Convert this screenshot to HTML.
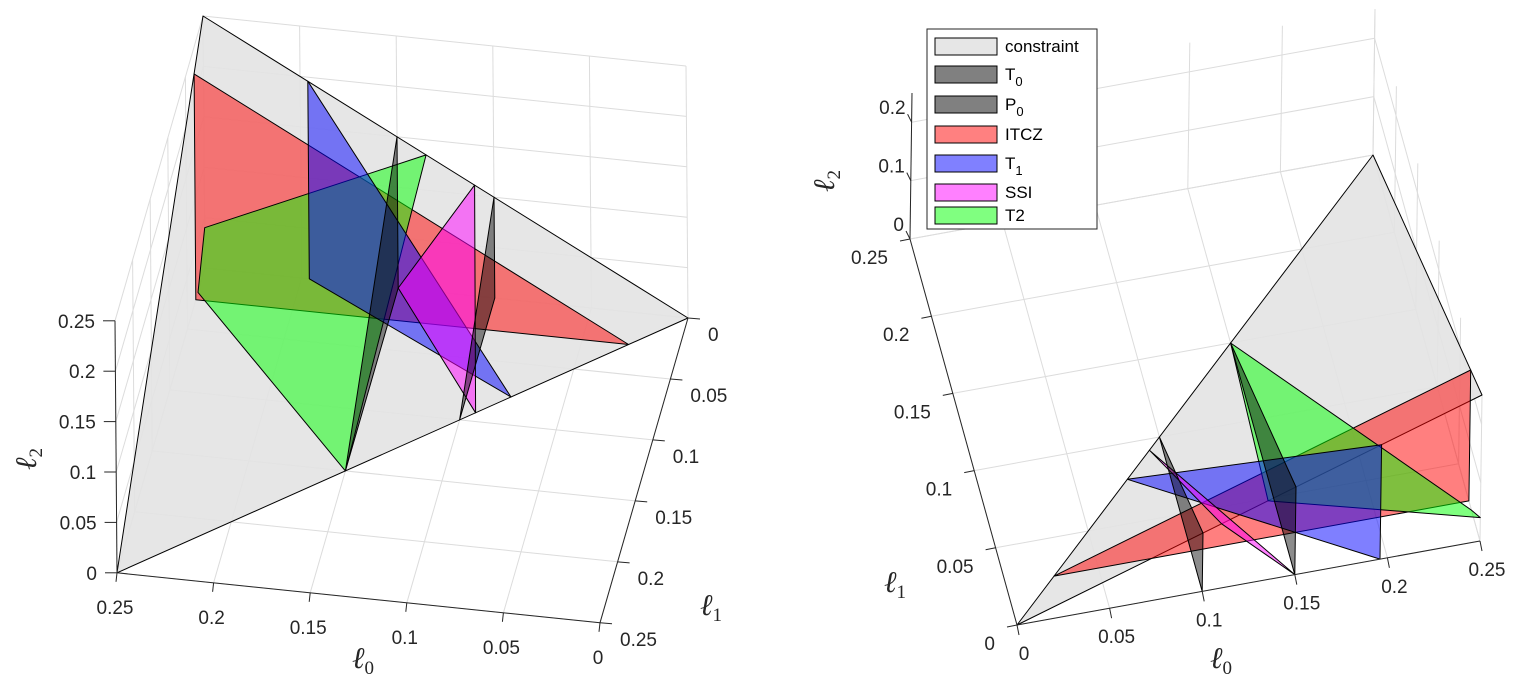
<!DOCTYPE html>
<html><head><meta charset="utf-8">
<style>
html,body{margin:0;padding:0;background:#fff;}
svg{display:block;font-family:"Liberation Sans",Arial,sans-serif;}
.tick{font-size:19px;fill:#262626;}
.axl{font-family:"Liberation Serif",serif;font-style:italic;font-size:30px;fill:#262626;}
.leg{font-size:17px;fill:#000;}
</style></head>
<body>
<svg id="fig" width="1539" height="695" viewBox="0 0 1539 695" xmlns="http://www.w3.org/2000/svg">
  <g id="left"></g>
  <g id="right"></g>
  <g id="legend">
    <rect x="927" y="29" width="170" height="200" fill="#fff" stroke="#262626" stroke-width="1"/>
  </g>
</svg>
<script>
// ---- data (l0, l1, l2 coordinates) ----
const tickVals = [0, 0.05, 0.1, 0.15, 0.2, 0.25];
const tickLabels = ["0", "0.05", "0.1", "0.15", "0.2", "0.25"];
const rightL2Ticks = [0, 0.1, 0.2];
const rightL2Labels = ["0", "0.1", "0.2"];
const constraintTri = [[0,0,0],[0.25,0.25,0],[0.25,0,0.25]];
const t0Tri = [[0.1,0.1,0],[0.1,0,0],[0.1,0,0.1]];
const p0Tri = [[0.15,0.15,0],[0.15,0,0],[0.15,0,0.15]];
const itczTri = [[0.026,0.026,0],[0.25,0.026,0],[0.25,0.026,0.224]];
const t1Tri = [[0.0775,0.0775,0],[0.196,0,0],[0.196,0,0.196]];
const ssiTri = [[0.093,0.093,0],[0.15,0,0],[0.11,0,0.11]];
const t2Quad = [[0.15,0.15,0],[0.25,0.02,0],[0.25,0,0.04],[0.135,0,0.135]];
const seriesNames = ["constraint","T0","P0","ITCZ","T1","SSI","T2"];
const seriesColors = ["#e6e6e6","#808080","#808080","#ff8080","#8080ff","#ff80ff","#80ff80"];

// ---- projections (axis functions) ----
function projL(p){ return [688 - 1932*p[0] - 352*p[1] - 8*p[2], 318 - 200*p[0] + 1016*p[1]*1.2 - 1008*p[2]]; }
function projR(p){ return [1017 + 1852*p[0] - 428*p[1] + 8*p[2], 625 - 336*p[0] - 1544*p[1] - 584*p[2]]; }

const NS = "http://www.w3.org/2000/svg";
function mk(tag, attrs, parent){
  const e = document.createElementNS(NS, tag);
  for (const k in attrs) e.setAttribute(k, attrs[k]);
  parent.appendChild(e); return e;
}
function line(g, P, a, b, stroke, w, name){
  const A = P(a), B = P(b);
  const e = mk("line", {x1:A[0].toFixed(1), y1:A[1].toFixed(1), x2:B[0].toFixed(1), y2:B[1].toFixed(1), stroke:stroke, "stroke-width":w}, g);
  
  
  return e;
}
function poly(g, P, pts, fill, op, stroke, name){
  const s = pts.map(p => P(p).map(v => v.toFixed(1)).join(",")).join(" ");
  const e = mk("polygon", {points:s, fill:fill, "fill-opacity":op, stroke:stroke, "stroke-width":1, "stroke-linejoin":"round"}, g);
  
  
  return e;
}
function text(g, x, y, str, cls, anchor, name){
  const e = mk("text", {x:x.toFixed(1), y:y.toFixed(1), class:cls, "text-anchor":anchor}, g);
  e.textContent = str;
  
  
  return e;
}
function drawSurfaces(g, P){
  poly(g, P, constraintTri, "#e3e3e3", 0.9, "#000", "constraint-surface");
  poly(g, P, itczTri, "#ff0000", 0.5, "#000", "itcz-surface");
  poly(g, P, t2Quad, "#00ff00", 0.5, "#000", "t2-surface");
  poly(g, P, t1Tri, "#0000ff", 0.5, "#000", "t1-surface");
  poly(g, P, ssiTri, "#ff00ff", 0.5, "#000", "ssi-surface");
  poly(g, P, p0Tri, "#000000", 0.45, "#000", "p0-surface");
  poly(g, P, t0Tri, "#000000", 0.45, "#000", "t0-surface");
}
const GC = "#dcdcdc";

// ---------- LEFT ----------
(function(){
  const g = document.getElementById("left");
  const P = projL;
  const gg = mk("g", {}, g);
  
  
  tickVals.forEach(t => {
    line(gg, P, [t,0,0], [t,0.25,0], GC, 1, "grid-line");
    line(gg, P, [0,t,0], [0.25,t,0], GC, 1, "grid-line");
    line(gg, P, [t,0,0], [t,0,0.25], GC, 1, "grid-line");
    line(gg, P, [0,0,t], [0.25,0,t], GC, 1, "grid-line");
    line(gg, P, [0.25,t,0], [0.25,t,0.25], GC, 1, "grid-line");
    line(gg, P, [0.25,0,t], [0.25,0.25,t], GC, 1, "grid-line");
  });
  drawSurfaces(g, P);
  line(g, P, [0.25,0.25,0], [0,0.25,0], "#262626", 1, "l0-axis-line");
  line(g, P, [0,0,0], [0,0.25,0], "#262626", 1, "l1-axis-line");
  line(g, P, [0.25,0.25,0], [0.25,0.25,0.25], "#262626", 1, "l2-axis-line");
  tickVals.forEach((t,i) => {
    let A = P([t,0.25,0]);
    mk("line",{x1:A[0],y1:A[1],x2:A[0]-1,y2:A[1]+9,stroke:"#262626"},g);
    text(g, A[0]-2, A[1]+41, tickLabels[i], "tick", "middle", "l0-tick-label");
    A = P([0,t,0]);
    mk("line",{x1:A[0],y1:A[1],x2:A[0]+12,y2:A[1]+1,stroke:"#262626"},g);
    text(g, A[0]+20, A[1]+23, tickLabels[i], "tick", "start", "l1-tick-label");
    A = P([0.25,0.25,t]);
    mk("line",{x1:A[0],y1:A[1],x2:A[0]-12,y2:A[1],stroke:"#262626"},g);
    text(g, A[0]-20, A[1]+7, tickLabels[i], "tick", "end", "l2-tick-label");
  });
  const a0 = text(g, 352, 668, "ℓ", "axl", "start", "l0-axis-title");
  mk("tspan",{"font-size":"19","dy":"6","font-style":"normal"},a0).textContent="0";
  const a1 = text(g, 700, 615, "ℓ", "axl", "start", "l1-axis-title");
  mk("tspan",{"font-size":"19","dy":"6","font-style":"normal"},a1).textContent="1";
  const a2 = text(g, 0, 0, "ℓ", "axl", "start", "l2-axis-title");
  a2.setAttribute("transform","translate(36,470) rotate(-90)");
  mk("tspan",{"font-size":"19","dy":"6","font-style":"normal"},a2).textContent="2";
})();

// ---------- RIGHT ----------
(function(){
  const g = document.getElementById("right");
  const P = projR;
  const gg = mk("g", {}, g);
  
  
  tickVals.forEach(t => {
    line(gg, P, [t,0,0], [t,0.25,0], GC, 1, "grid-line");
    line(gg, P, [0,t,0], [0.25,t,0], GC, 1, "grid-line");
    line(gg, P, [t,0.25,0], [t,0.25,0.25], GC, 1, "grid-line");
    line(gg, P, [0.25,t,0], [0.25,t,0.25], GC, 1, "grid-line");
  });
  rightL2Ticks.forEach(t => {
    line(gg, P, [0,0.25,t], [0.25,0.25,t], GC, 1, "grid-line");
    line(gg, P, [0.25,0,t], [0.25,0.25,t], GC, 1, "grid-line");
  });
  drawSurfaces(g, P);
  line(g, P, [0,0,0], [0.25,0,0], "#262626", 1, "l0-axis-line");
  line(g, P, [0,0,0], [0,0.25,0], "#262626", 1, "l1-axis-line");
  line(g, P, [0,0.25,0], [0,0.25,0.25], "#262626", 1, "l2-axis-line");
  tickVals.forEach((t,i) => {
    let A = P([t,0,0]);
    mk("line",{x1:A[0],y1:A[1],x2:A[0]+2,y2:A[1]+10,stroke:"#262626"},g);
    text(g, A[0]+7, A[1]+35, tickLabels[i], "tick", "middle", "l0-tick-label");
    A = P([0,t,0]);
    mk("line",{x1:A[0],y1:A[1],x2:A[0]-10,y2:A[1]+2,stroke:"#262626"},g);
    text(g, A[0]-22, A[1]+25, tickLabels[i], "tick", "end", "l1-tick-label");
  });
  rightL2Ticks.forEach((t,i) => {
    const A = P([0,0.25,t]);
    mk("line",{x1:A[0],y1:A[1],x2:A[0]-4,y2:A[1]-8,stroke:"#262626"},g);
    text(g, A[0]-6, A[1]-8, rightL2Labels[i], "tick", "end", "l2-tick-label");
  });
  const a0 = text(g, 1210, 668, "ℓ", "axl", "start", "l0-axis-title");
  mk("tspan",{"font-size":"19","dy":"6","font-style":"normal"},a0).textContent="0";
  const a1 = text(g, 884, 592, "ℓ", "axl", "start", "l1-axis-title");
  mk("tspan",{"font-size":"19","dy":"6","font-style":"normal"},a1).textContent="1";
  const a2 = text(g, 0, 0, "ℓ", "axl", "start", "l2-axis-title");
  a2.setAttribute("transform","translate(834,192) rotate(-90)");
  mk("tspan",{"font-size":"19","dy":"6","font-style":"normal"},a2).textContent="2";
})();

// ---------- LEGEND ----------
(function(){
  const g = document.getElementById("legend");
  const rows = [46,74,104,134,163,192,215];
  seriesNames.forEach((n,i) => {
    const y = rows[i];
    const r = mk("rect",{x:935,y:y-8,width:62,height:17,fill:seriesColors[i],stroke:"#000","stroke-width":1},g);
    
    
    const t = mk("text",{x:1005,y:y+6,class:"leg"},g);
    
    
    if (n.length === 2 && (n[0]==="T"||n[0]==="P") && n!=="T2") {
      t.textContent = n[0];
      const s = mk("tspan",{"font-size":"13","dy":"6"},t); s.textContent = n[1];
    } else t.textContent = n;
  });
})();
</script>
</body></html>
